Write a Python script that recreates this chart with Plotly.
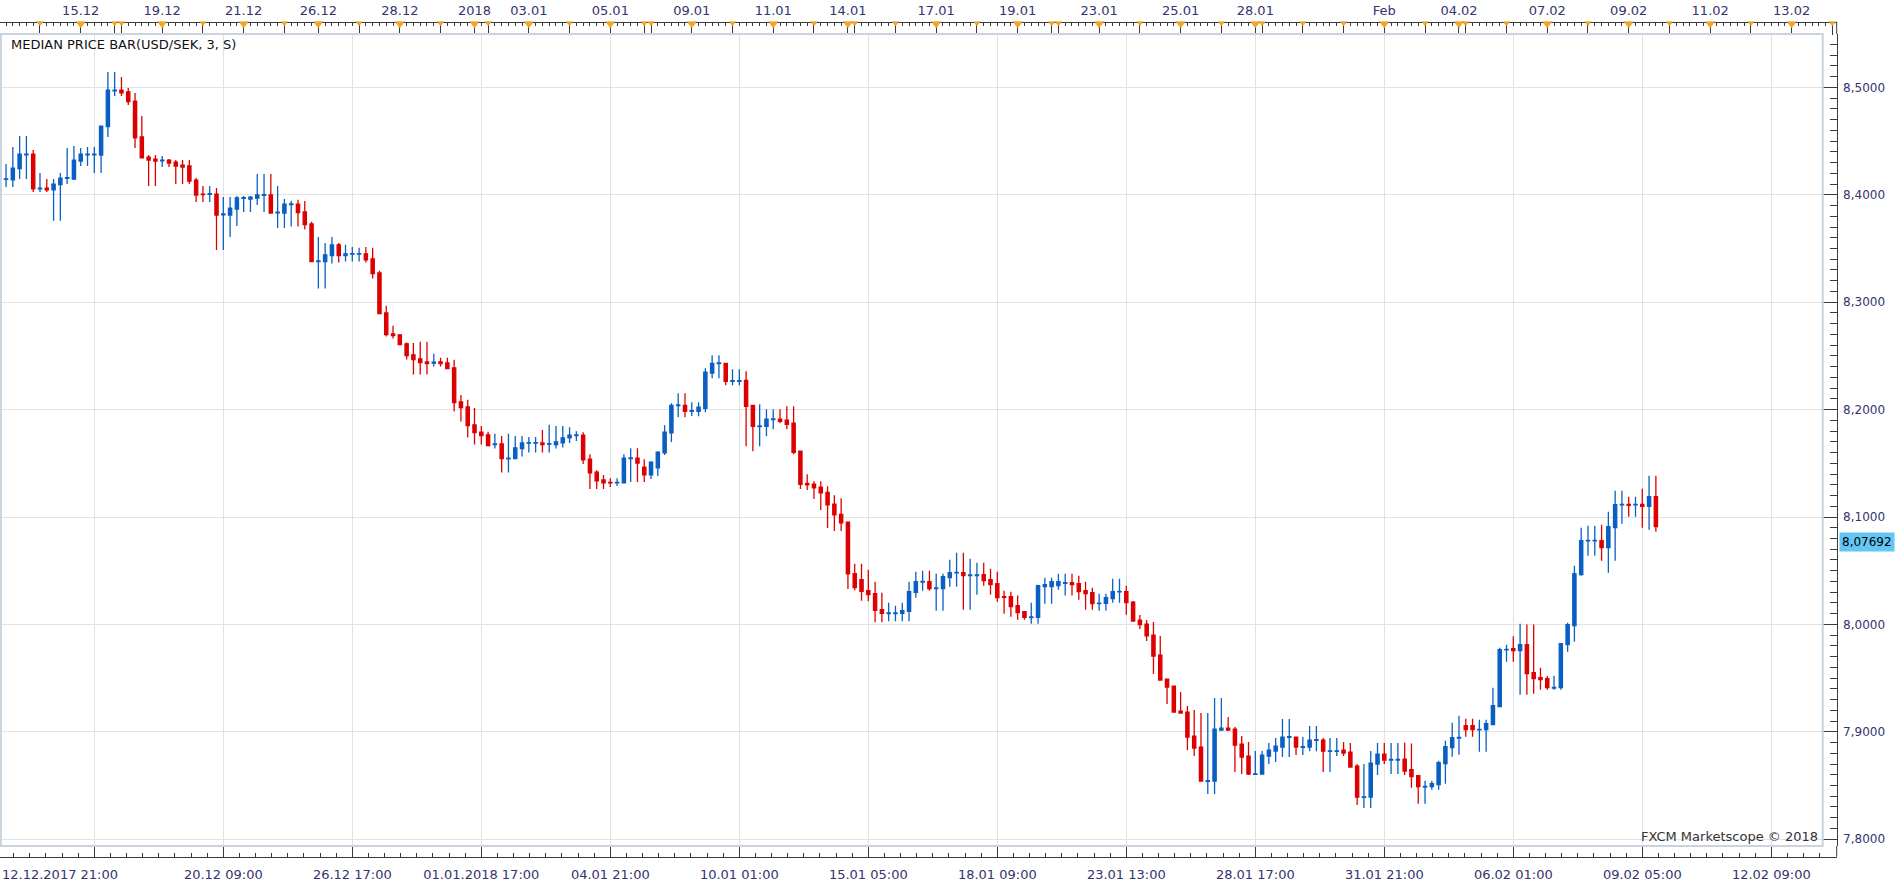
import plotly.graph_objects as go

# ---------------- data ----------------
open_ = [8.4184, 8.4143, 8.4140, 8.4243, 8.4373, 8.4379, 8.4056, 8.4063, 8.4047, 8.4094,
         8.4153, 8.4146, 8.4314, 8.4373, 8.4373, 8.4370, 8.4634, 8.4969, 8.4975, 8.4957,
         8.4873, 8.4538, 8.4351, 8.4333, 8.4317, 8.4323, 8.4305, 8.4277, 8.4268, 8.4137,
         8.4007, 8.4004, 8.4007, 8.3814, 8.3811, 8.3867, 8.3967, 8.3960, 8.3970, 8.3994,
         8.3998, 8.3833, 8.3830, 8.3909, 8.3912, 8.3841, 8.3729, 8.3379, 8.3379, 8.3435,
         8.3534, 8.3435, 8.3447, 8.3447, 8.3450, 8.3403, 8.3273, 8.2900, 8.2705, 8.2696,
         8.2612, 8.2510, 8.2472, 8.2444, 8.2432, 8.2444, 8.2435, 8.2389, 8.2072, 8.2025,
         8.1858, 8.1789, 8.1765, 8.1675, 8.1681, 8.1541, 8.1544, 8.1637, 8.1687, 8.1687,
         8.1690, 8.1678, 8.1675, 8.1690, 8.1736, 8.1758, 8.1761, 8.1538, 8.1417, 8.1345,
         8.1323, 8.1317, 8.1317, 8.1544, 8.1547, 8.1463, 8.1392, 8.1457, 8.1597, 8.1783,
         8.2037, 8.2040, 8.1984, 8.1984, 8.2012, 8.2341, 8.2428, 8.2431, 8.2264, 8.2264,
         8.2273, 8.2040, 8.1842, 8.1845, 8.1907, 8.1910, 8.1901, 8.1873, 8.1612, 8.1314,
         8.1305, 8.1277, 8.1230, 8.1119, 8.1025, 8.0951, 8.0472, 8.0417, 8.0314, 8.0286,
         8.0137, 8.0100, 8.0100, 8.0103, 8.0122, 8.0299, 8.0395, 8.0398, 8.0333, 8.0333,
         8.0435, 8.0479, 8.0482, 8.0454, 8.0454, 8.0463, 8.0417, 8.0379, 8.0258, 8.0258,
         8.0174, 8.0119, 8.0063, 8.0066, 8.0351, 8.0351, 8.0361, 8.0383, 8.0389, 8.0379,
         8.0314, 8.0295, 8.0193, 8.0196, 8.0240, 8.0302, 8.0305, 8.0208, 8.0040, 8.0003,
         7.9901, 7.9714, 7.9491, 7.9426, 7.9193, 7.9184, 7.8960, 7.8858, 7.8538, 7.8541,
         7.9016, 7.9035, 7.9025, 7.8886, 7.8774, 7.8603, 7.8606, 7.8774, 7.8821, 7.8858,
         7.8948, 7.8951, 7.8855, 7.8858, 7.8920, 7.8923, 7.8817, 7.8817, 7.8830, 7.8811,
         7.8681, 7.8389, 7.8392, 7.8700, 7.8793, 7.8737, 7.8737, 7.8746, 7.8647, 7.8592,
         7.8486, 7.8489, 7.8508, 7.8703, 7.8852, 7.8942, 7.9057, 7.9057, 7.9017, 7.9020,
         7.9066, 7.9234, 7.9762, 7.9774, 7.9755, 7.9811, 7.9551, 7.9504, 7.9495, 7.9408,
         7.9411, 7.9811, 7.9988, 8.0463, 8.0777, 8.0777, 8.0780, 8.0714, 8.0901, 8.1112,
         8.1118, 8.1112, 8.1118, 8.1099, 8.1189]
high = [8.4200, 8.4286, 8.4444, 8.4547, 8.4547, 8.4417, 8.4202, 8.4146, 8.4146, 8.4202,
        8.4435, 8.4454, 8.4435, 8.4444, 8.4444, 8.4643, 8.5143, 8.5143, 8.5096, 8.4994,
        8.4947, 8.4733, 8.4370, 8.4370, 8.4361, 8.4333, 8.4323, 8.4323, 8.4323, 8.4156,
        8.4081, 8.4081, 8.4063, 8.3979, 8.3979, 8.3988, 8.3988, 8.3988, 8.4193, 8.4193,
        8.4193, 8.4081, 8.3960, 8.3945, 8.3953, 8.3943, 8.3748, 8.3608, 8.3552, 8.3608,
        8.3552, 8.3534, 8.3515, 8.3506, 8.3515, 8.3506, 8.3292, 8.2966, 8.2780, 8.2696,
        8.2624, 8.2621, 8.2631, 8.2631, 8.2519, 8.2482, 8.2482, 8.2463, 8.2137, 8.2091,
        8.2016, 8.1848, 8.1793, 8.1774, 8.1755, 8.1774, 8.1755, 8.1755, 8.1746, 8.1746,
        8.1811, 8.1858, 8.1848, 8.1848, 8.1836, 8.1798, 8.1789, 8.1584, 8.1435, 8.1392,
        8.1361, 8.1361, 8.1584, 8.1640, 8.1640, 8.1538, 8.1519, 8.1612, 8.1854, 8.2059,
        8.2152, 8.2152, 8.2068, 8.2068, 8.2385, 8.2506, 8.2506, 8.2431, 8.2376, 8.2376,
        8.2357, 8.2040, 8.2050, 8.2003, 8.2003, 8.2003, 8.2031, 8.2031, 8.1612, 8.1398,
        8.1333, 8.1333, 8.1286, 8.1202, 8.1174, 8.0951, 8.0565, 8.0565, 8.0510, 8.0398,
        8.0295, 8.0202, 8.0174, 8.0202, 8.0398, 8.0491, 8.0500, 8.0500, 8.0472, 8.0472,
        8.0603, 8.0668, 8.0668, 8.0612, 8.0575, 8.0575, 8.0519, 8.0491, 8.0314, 8.0305,
        8.0268, 8.0119, 8.0202, 8.0370, 8.0435, 8.0435, 8.0472, 8.0472, 8.0472, 8.0454,
        8.0398, 8.0342, 8.0286, 8.0286, 8.0426, 8.0426, 8.0361, 8.0217, 8.0087, 8.0040,
        8.0022, 7.9891, 7.9491, 7.9426, 7.9370, 7.9240, 7.9202, 7.9174, 7.9174, 7.9314,
        7.9314, 7.9137, 7.9044, 7.8960, 7.8904, 7.8821, 7.8821, 7.8895, 7.8942, 7.9119,
        7.9119, 7.8951, 7.8951, 7.9053, 7.9053, 7.8942, 7.8942, 7.8942, 7.8904, 7.8895,
        7.8700, 7.8700, 7.8821, 7.8895, 7.8895, 7.8895, 7.8895, 7.8899, 7.8890, 7.8592,
        7.8545, 7.8545, 7.8731, 7.8917, 7.9085, 7.9150, 7.9122, 7.9122, 7.9113, 7.9113,
        7.9411, 7.9783, 7.9811, 7.9890, 8.0007, 7.9998, 7.9998, 7.9597, 7.9523, 7.9523,
        7.9821, 8.0016, 8.0547, 8.0901, 8.0919, 8.0919, 8.0929, 8.1050, 8.1245, 8.1245,
        8.1189, 8.1189, 8.1264, 8.1385, 8.1385]
low = [8.4120, 8.4072, 8.4072, 8.4146, 8.4146, 8.4025, 8.4025, 8.4025, 8.3759, 8.3759,
       8.4100, 8.4137, 8.4268, 8.4268, 8.4202, 8.4202, 8.4538, 8.4919, 8.4919, 8.4836,
       8.4435, 8.4345, 8.4081, 8.4081, 8.4258, 8.4258, 8.4100, 8.4100, 8.4100, 8.3932,
       8.3932, 8.3932, 8.3485, 8.3485, 8.3606, 8.3709, 8.3839, 8.3839, 8.3904, 8.3839,
       8.3830, 8.3690, 8.3690, 8.3705, 8.3705, 8.3677, 8.3379, 8.3127, 8.3127, 8.3360,
       8.3369, 8.3379, 8.3379, 8.3379, 8.3369, 8.3220, 8.2894, 8.2680, 8.2662, 8.2606,
       8.2466, 8.2327, 8.2327, 8.2327, 8.2401, 8.2401, 8.2382, 8.1982, 8.1889, 8.1740,
       8.1675, 8.1675, 8.1656, 8.1637, 8.1414, 8.1414, 8.1544, 8.1563, 8.1600, 8.1600,
       8.1600, 8.1600, 8.1637, 8.1647, 8.1690, 8.1708, 8.1494, 8.1261, 8.1261, 8.1261,
       8.1280, 8.1289, 8.1317, 8.1327, 8.1327, 8.1327, 8.1354, 8.1382, 8.1578, 8.1699,
       8.1932, 8.1929, 8.1941, 8.1938, 8.1975, 8.2292, 8.2292, 8.2227, 8.2227, 8.2227,
       8.1659, 8.1612, 8.1659, 8.1752, 8.1817, 8.1873, 8.1817, 8.1584, 8.1261, 8.1252,
       8.1168, 8.1066, 8.0898, 8.0870, 8.0870, 8.0330, 8.0317, 8.0221, 8.0215, 8.0019,
       8.0019, 8.0029, 8.0029, 8.0029, 8.0029, 8.0249, 8.0314, 8.0314, 8.0128, 8.0128,
       8.0351, 8.0351, 8.0137, 8.0137, 8.0277, 8.0361, 8.0277, 8.0212, 8.0100, 8.0072,
       8.0044, 8.0044, 8.0007, 8.0007, 8.0193, 8.0193, 8.0323, 8.0268, 8.0268, 8.0230,
       8.0137, 8.0137, 8.0128, 8.0128, 8.0202, 8.0202, 8.0090, 8.0031, 7.9957, 7.9845,
       7.9538, 7.9482, 7.9258, 7.9184, 7.9174, 7.8830, 7.8774, 7.8541, 7.8420, 7.8420,
       7.9007, 7.9007, 7.8625, 7.8606, 7.8597, 7.8597, 7.8606, 7.8700, 7.8718, 7.8765,
       7.8765, 7.8783, 7.8783, 7.8820, 7.8820, 7.8625, 7.8625, 7.8774, 7.8774, 7.8672,
       7.8318, 7.8290, 7.8290, 7.8597, 7.8700, 7.8606, 7.8606, 7.8597, 7.8480, 7.8331,
       7.8331, 7.8461, 7.8461, 7.8517, 7.8768, 7.8787, 7.8955, 7.8955, 7.8815, 7.8815,
       7.9066, 7.9234, 7.9653, 7.9653, 7.9346, 7.9346, 7.9355, 7.9392, 7.9392, 7.9392,
       7.9392, 7.9746, 7.9839, 8.0454, 8.0640, 8.0640, 8.0593, 8.0482, 8.0593, 8.0938,
       8.1003, 8.1003, 8.0901, 8.0882, 8.0863]
close = [8.4137, 8.4149, 8.4249, 8.4379, 8.4379, 8.4056, 8.4063, 8.4047, 8.4100, 8.4156,
         8.4159, 8.4323, 8.4379, 8.4379, 8.4379, 8.4640, 8.4975, 8.4975, 8.4950, 8.4867,
         8.4531, 8.4345, 8.4323, 8.4314, 8.4323, 8.4295, 8.4268, 8.4258, 8.4128, 8.3998,
         8.4001, 8.4010, 8.3811, 8.3821, 8.3876, 8.3970, 8.3973, 8.3979, 8.3998, 8.4001,
         8.3830, 8.3839, 8.3914, 8.3916, 8.3835, 8.3723, 8.3379, 8.3385, 8.3441, 8.3534,
         8.3435, 8.3450, 8.3453, 8.3453, 8.3394, 8.3267, 8.2894, 8.2699, 8.2690, 8.2606,
         8.2503, 8.2466, 8.2438, 8.2429, 8.2441, 8.2429, 8.2382, 8.2066, 8.2019, 8.1852,
         8.1786, 8.1759, 8.1665, 8.1681, 8.1544, 8.1547, 8.1644, 8.1690, 8.1693, 8.1693,
         8.1675, 8.1684, 8.1700, 8.1737, 8.1761, 8.1764, 8.1531, 8.1410, 8.1336, 8.1317,
         8.1317, 8.1323, 8.1547, 8.1550, 8.1503, 8.1392, 8.1510, 8.1603, 8.1789, 8.2040,
         8.2043, 8.1984, 8.1990, 8.2022, 8.2348, 8.2431, 8.2434, 8.2264, 8.2270, 8.2270,
         8.2031, 8.1845, 8.1848, 8.1910, 8.1913, 8.1891, 8.1863, 8.1603, 8.1305, 8.1299,
         8.1271, 8.1224, 8.1112, 8.1019, 8.0945, 8.0470, 8.0342, 8.0308, 8.0277, 8.0131,
         8.0103, 8.0106, 8.0106, 8.0128, 8.0305, 8.0398, 8.0401, 8.0333, 8.0339, 8.0444,
         8.0482, 8.0485, 8.0454, 8.0460, 8.0460, 8.0407, 8.0370, 8.0249, 8.0252, 8.0165,
         8.0109, 8.0066, 8.0069, 8.0361, 8.0370, 8.0398, 8.0398, 8.0389, 8.0370, 8.0305,
         8.0286, 8.0193, 8.0199, 8.0249, 8.0305, 8.0308, 8.0202, 8.0031, 7.9997, 7.9894,
         7.9705, 7.9482, 7.9417, 7.9184, 7.9174, 7.8951, 7.8849, 7.8541, 7.8544, 7.9025,
         7.9035, 7.9016, 7.8876, 7.8765, 7.8606, 7.8609, 7.8783, 7.8830, 7.8867, 7.8951,
         7.8954, 7.8858, 7.8861, 7.8923, 7.8926, 7.8820, 7.8823, 7.8823, 7.8802, 7.8672,
         7.8392, 7.8395, 7.8709, 7.8793, 7.8737, 7.8743, 7.8743, 7.8634, 7.8582, 7.8489,
         7.8492, 7.8517, 7.8713, 7.8862, 7.8945, 7.8948, 7.9020, 7.9020, 7.9023, 7.9076,
         7.9243, 7.9765, 7.9768, 7.9755, 7.9811, 7.9541, 7.9495, 7.9485, 7.9411, 7.9414,
         7.9821, 7.9998, 8.0472, 8.0780, 8.0783, 8.0783, 8.0714, 8.0910, 8.1115, 8.1118,
         8.1109, 8.1118, 8.1099, 8.1189, 8.0910]
bars = list(range(len(close)))

last_price = 8.07692
title_text = "MEDIAN PRICE BAR(USD/SEK, 3, S)"
credit_text = "FXCM Marketscope \u00a9 2018"

bottom_tick_bars = [14, 33, 52, 71, 90, 109, 128, 147, 166, 185, 204, 223, 242, 261]
bottom_tick_text = ["", "20.12 09:00", "26.12 17:00", "01.01.2018 17:00", "04.01 21:00",
                    "10.01 01:00", "15.01 05:00", "18.01 09:00", "23.01 13:00", "28.01 17:00",
                    "31.01 21:00", "06.02 01:00", "09.02 05:00", "12.02 09:00"]
first_bar_label = "12.12.2017 21:00"

day_marker_bars = [6, 12, 17, 18, 24, 30, 36, 42, 47, 53, 59, 65, 70, 72, 78, 84, 90, 95, 96,
                   102, 108, 114, 120, 125, 126, 132, 138, 144, 150, 155, 156, 162, 168, 174,
                   180, 185, 186, 192, 198, 204, 210, 215, 216, 222, 228, 234, 240, 246, 252,
                   258, 264, 270]
top_label_bars = [12, 24, 36, 47, 59, 70, 78, 90, 102, 114, 125, 138, 150, 162, 174, 185,
                  204, 215, 228, 240, 252, 264]
top_label_text = ["15.12", "19.12", "21.12", "26.12", "28.12", "2018", "03.01", "05.01",
                  "09.01", "11.01", "14.01", "17.01", "19.01", "23.01", "25.01", "28.01",
                  "Feb", "04.02", "07.02", "09.02", "11.02", "13.02"]

# ---------------- geometry ----------------
W, H = 1903, 887
BAR_PX = 129.0 / 19.0
BAR0_PX = -0.75
PLOT_RIGHT_PX = 1836.7
FRAME_RIGHT_PX = 1822.7
FRAME_TOP_PX, FRAME_BOTTOM_PX = 34.0, 846.0
TOP_AXIS_PX, BOTTOM_AXIS_PX = 21.7, 856.7
Y_REF_PX, Y_REF_VAL, PX_PER_UNIT = 87.4, 8.5, 1074.0


def px_to_bar(px):
    return (px - BAR0_PX) / BAR_PX


def px_to_price(py):
    return Y_REF_VAL - (py - Y_REF_PX) / PX_PER_UNIT


def py_paper(py):
    return (H - py) / H


x_range = [px_to_bar(0.0), px_to_bar(PLOT_RIGHT_PX)]
y_range = [px_to_price(FRAME_BOTTOM_PX), px_to_price(FRAME_TOP_PX)]
x_dom = [0.0, PLOT_RIGHT_PX / W]
y_dom = [py_paper(FRAME_BOTTOM_PX), py_paper(FRAME_TOP_PX)]
strip_dom = [py_paper(FRAME_TOP_PX), py_paper(TOP_AXIS_PX)]
strip_h = FRAME_TOP_PX - TOP_AXIS_PX

FONT = "DejaVu Sans"
NAVY = "#34346e"
AXIS = "#3a3a3a"
GRID = "#e2e2e2"
BLUE = "#0a5fc2"
RED = "#dd0000"

fig = go.Figure()

fig.add_trace(go.Candlestick(
    x=bars, open=open_, high=high, low=low, close=close,
    increasing=dict(line=dict(color=BLUE, width=1.3), fillcolor=BLUE),
    decreasing=dict(line=dict(color=RED, width=1.3), fillcolor=RED),
    whiskerwidth=0, hoverinfo="skip", showlegend=False,
))

# invisible carrier so the top time axis (x2) is rendered
fig.add_trace(go.Scatter(
    x=[bars[0]], y=[close[0]], xaxis="x2", yaxis="y", mode="markers",
    marker=dict(opacity=0, size=1), hoverinfo="skip", showlegend=False,
))

# day-boundary markers in the strip under the top time axis
small_bars = [b for b in day_marker_bars if b not in top_label_bars]
for bset, size in ((small_bars, 5.5), (top_label_bars, 8)):
    fig.add_trace(go.Scatter(
        x=bset, y=[1 - (size / 4.0) / strip_h] * len(bset),
        xaxis="x3", yaxis="y3", mode="markers", cliponaxis=False,
        marker=dict(symbol="triangle-down", size=size, color="#f6a623",
                    line=dict(color="#e08e0b", width=0.5)),
        hoverinfo="skip", showlegend=False,
    ))

fig.update_layout(
    width=W, height=H,
    margin=dict(l=0, r=0, t=0, b=0),
    paper_bgcolor="white", plot_bgcolor="white",
    separators=",.",
    boxgap=0.32,
    showlegend=False,
    font=dict(family=FONT, size=12, color=NAVY),
    xaxis=dict(
        domain=x_dom, range=x_range, anchor="free", position=py_paper(BOTTOM_AXIS_PX),
        rangeslider=dict(visible=False),
        tickmode="array", tickvals=bottom_tick_bars, ticktext=bottom_tick_text,
        ticks="inside", ticklen=BOTTOM_AXIS_PX - FRAME_BOTTOM_PX, tickcolor=AXIS, tickwidth=1,
        minor=dict(ticks="inside", tickmode="linear", tick0=bottom_tick_bars[0],
                   dtick=19 / 8, ticklen=4, tickcolor=AXIS, showgrid=False),
        showgrid=True, gridcolor=GRID, gridwidth=1,
        showline=True, linecolor=AXIS, linewidth=1,
        zeroline=False, ticklabelstandoff=6,
        tickfont=dict(family=FONT, size=13, color=NAVY),
    ),
    xaxis2=dict(
        overlaying="x", domain=x_dom, range=x_range, anchor="free",
        position=py_paper(TOP_AXIS_PX), side="top",
        tickmode="array", tickvals=day_marker_bars,
        ticktext=[top_label_text[top_label_bars.index(b)] if b in top_label_bars else ""
                  for b in day_marker_bars],
        ticks="inside", ticklen=strip_h - 0.5, tickcolor=AXIS, tickwidth=1,
        minor=dict(ticks="inside", tickmode="linear", tick0=0, dtick=1, ticklen=3.5,
                   tickcolor=AXIS, showgrid=False),
        showgrid=False, showline=True, linecolor=AXIS, linewidth=1, zeroline=False,
        ticklabelstandoff=2,
        tickfont=dict(family=FONT, size=13, color=NAVY),
    ),
    xaxis3=dict(domain=x_dom, range=x_range, anchor="y3", visible=False,
                showgrid=False, zeroline=False),
    yaxis3=dict(domain=strip_dom, range=[0, 1], anchor="x3", visible=False,
                showgrid=False, zeroline=False),
    yaxis=dict(
        domain=y_dom, range=y_range, side="right", anchor="x",
        tickmode="linear", tick0=7.8, dtick=0.1, tickformat=".4f",
        ticks="inside", ticklen=PLOT_RIGHT_PX - FRAME_RIGHT_PX, tickcolor=AXIS, tickwidth=1,
        minor=dict(ticks="inside", tickmode="linear", tick0=7.8, dtick=0.01, ticklen=7,
                   tickcolor=AXIS, showgrid=False),
        showgrid=True, gridcolor=GRID, gridwidth=1,
        showline=True, linecolor=AXIS, linewidth=1, zeroline=False,
        ticklabelstandoff=3,
        tickfont=dict(family=FONT, size=12, color=NAVY),
    ),
)

# frame around the price area and axis-line extensions to the corners
fig.add_shape(type="rect", xref="paper", yref="paper",
              x0=0.0005, x1=FRAME_RIGHT_PX / W,
              y0=py_paper(FRAME_BOTTOM_PX), y1=py_paper(FRAME_TOP_PX),
              line=dict(color="#c9d4df", width=2), layer="above")
for y0, y1 in ((TOP_AXIS_PX, FRAME_TOP_PX), (FRAME_BOTTOM_PX, BOTTOM_AXIS_PX)):
    fig.add_shape(type="line", xref="paper", yref="paper",
                  x0=PLOT_RIGHT_PX / W, x1=PLOT_RIGHT_PX / W,
                  y0=py_paper(y0), y1=py_paper(y1),
                  line=dict(color=AXIS, width=1), layer="above")

fig.add_annotation(text=title_text, xref="paper", yref="paper",
                   x=9 / W, y=py_paper(44), xanchor="left", yanchor="middle",
                   showarrow=False, font=dict(family=FONT, size=13, color="#111111"))
fig.add_annotation(text=credit_text, xref="paper", yref="paper",
                   x=1820 / W, y=py_paper(836), xanchor="right", yanchor="middle",
                   showarrow=False, font=dict(family=FONT, size=13, color="#333333"))
fig.add_annotation(text=first_bar_label, xref="paper", yref="paper",
                   x=0, y=py_paper(874), xanchor="left", yanchor="middle",
                   showarrow=False, font=dict(family=FONT, size=13, color=NAVY))
fig.add_annotation(text=f"{last_price:.5f}".replace(".", ","), xref="paper", yref="y",
                   x=1839 / W, y=last_price, xanchor="left", yanchor="middle",
                   showarrow=False, bgcolor="#63c6f4", borderpad=2,
                   font=dict(family=FONT, size=12, color="#000000"))

fig.write_html("out.html")
